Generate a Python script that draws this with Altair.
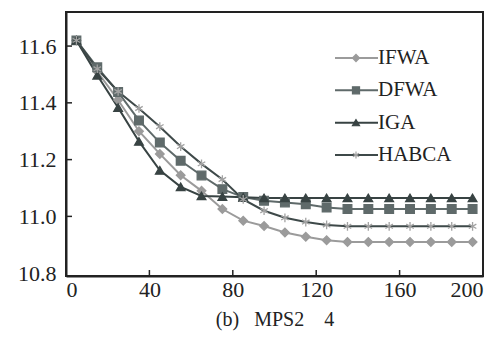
import altair as alt
import pandas as pd

# ---- data ----
iterations = [5, 15, 25, 35, 45, 55, 65, 75, 85, 95, 105, 115, 125, 135, 145, 155, 165, 175, 185, 195]
ifwa = [11.62, 11.51, 11.41, 11.30, 11.22, 11.145, 11.09, 11.026, 10.985, 10.966,
        10.943, 10.928, 10.916, 10.91, 10.91, 10.91, 10.91, 10.91, 10.91, 10.91]
dfwa = [11.62, 11.525, 11.438, 11.338, 11.26, 11.196, 11.144, 11.096, 11.068, 11.055,
        11.049, 11.043, 11.031, 11.026, 11.026, 11.026, 11.026, 11.026, 11.026, 11.026]
iga = [11.62, 11.497, 11.383, 11.264, 11.162, 11.104, 11.072, 11.07, 11.067, 11.065,
       11.065, 11.065, 11.065, 11.065, 11.065, 11.065, 11.065, 11.065, 11.065, 11.065]
habca = [11.62, 11.52, 11.44, 11.38, 11.316, 11.246, 11.185, 11.13, 11.06, 11.02,
         10.995, 10.98, 10.97, 10.965, 10.965, 10.965, 10.965, 10.965, 10.965, 10.965]

series = ["IFWA", "DFWA", "IGA", "HABCA"]
values = {"IFWA": ifwa, "DFWA": dfwa, "IGA": iga, "HABCA": habca}

x_tick_values = [0, 40, 80, 120, 160, 200]
y_tick_values = [10.8, 11.0, 11.2, 11.4, 11.6]
x_inner_ticks = [40, 80, 120, 160]
y_inner_ticks = [11.0, 11.2, 11.4, 11.6]
title_text = "(b)\u00a0\u00a0\u00a0MPS2\u00a0\u00a0\u00a0\u00a04"

# ---- styles ----
line_colors = ["#9b9b9b", "#5f6a6a", "#384343", "#3e4949"]
marker_colors = ["#9b9b9b", "#5f6a6a", "#384343", "#a3a3a3"]
asterisk = "M0,-1L0,1M-0.87,-0.5L0.87,0.5M-0.87,0.5L0.87,-0.5"
shapes = ["diamond", "square", "triangle-up", asterisk]
FONT = "'Liberation Serif', 'Times New Roman', 'DejaVu Serif', serif"

rows = []
for s in series:
    for it, v in zip(iterations, values[s]):
        rows.append({"iter": it, "value": v, "series": s})
df = pd.DataFrame(rows)

xscale = alt.Scale(domain=[0, 200], nice=False, zero=False)
yscale = alt.Scale(domain=[10.79, 11.72], nice=False, zero=False)
color_scale = alt.Scale(domain=series, range=line_colors)
mcolor_scale = alt.Scale(domain=series, range=marker_colors)
shape_scale = alt.Scale(domain=series, range=shapes)

base = alt.Chart(df)

lines = base.mark_line(strokeWidth=2).encode(
    x=alt.X("iter:Q", scale=xscale,
            axis=alt.Axis(values=x_tick_values, format="d", title=title_text,
                          titleFont=FONT, titleFontSize=20, titleFontWeight="normal",
                          titleColor="#222", titlePadding=9, labelPadding=3,
                          labelFont=FONT, labelFontSize=22)),
    y=alt.Y("value:Q", scale=yscale,
            axis=alt.Axis(values=y_tick_values, format=".1f", title=None, labelPadding=10,
                          labelFont=FONT, labelFontSize=22)),
    color=alt.Color("series:N", scale=color_scale, legend=None),
    detail="series:N",
)

points = base.mark_point(filled=True, size=75, strokeWidth=1.3, opacity=1).encode(
    x=alt.X("iter:Q", scale=xscale),
    y=alt.Y("value:Q", scale=yscale),
    shape=alt.Shape("series:N", scale=shape_scale, legend=None),
    fill=alt.Fill("series:N", scale=mcolor_scale, legend=None),
    stroke=alt.Stroke("series:N", scale=mcolor_scale, legend=None),
)

xt = alt.Chart(pd.DataFrame({"v": x_inner_ticks})).mark_rule(color="#222", strokeWidth=1.5).encode(
    x=alt.X("v:Q", scale=xscale), y=alt.value(264), y2=alt.value(258)
)
yt = alt.Chart(pd.DataFrame({"v": y_inner_ticks})).mark_rule(color="#222", strokeWidth=1.5).encode(
    y=alt.Y("v:Q", scale=yscale), x=alt.value(0), x2=alt.value(6)
)

main = alt.layer(lines, points, xt, yt)

# ---- manual legend ----
leg_df = pd.DataFrame({"series": series, "row": list(range(len(series)))})
leg_y = alt.Y("row:Q", scale=alt.Scale(domain=[0, 3], range=[46, 143]), axis=None)
leg_base = alt.Chart(leg_df)
leg_rule = leg_base.mark_rule(strokeWidth=2).encode(
    y=leg_y, x=alt.value(269), x2=alt.value(312),
    color=alt.Color("series:N", scale=color_scale, legend=None),
)
leg_pts = leg_base.mark_point(filled=True, size=50, strokeWidth=1.2, opacity=1).encode(
    y=leg_y, x=alt.value(290),
    shape=alt.Shape("series:N", scale=shape_scale, legend=None),
    fill=alt.Fill("series:N", scale=mcolor_scale, legend=None),
    stroke=alt.Stroke("series:N", scale=mcolor_scale, legend=None),
)
leg_text = leg_base.mark_text(align="left", baseline="middle", font=FONT, fontSize=21,
                              color="#222").encode(
    y=leg_y, x=alt.value(312), text="series:N"
)
legend = alt.layer(leg_rule, leg_pts, leg_text)

chart = alt.layer(main, legend).resolve_scale(y="independent").properties(
    width=417, height=264,
    autosize=alt.AutoSizeParams(type="none"),
    padding={"left": 58, "top": 4, "right": 11, "bottom": 60},
).configure_view(
    stroke="#222", strokeWidth=2
).configure_axis(
    grid=False, ticks=False, domainColor="#222", domainWidth=2,
    labelFont=FONT, labelFontSize=22, labelColor="#222",
)

chart.save("out.html", embed_options={"renderer": "svg", "actions": False})
